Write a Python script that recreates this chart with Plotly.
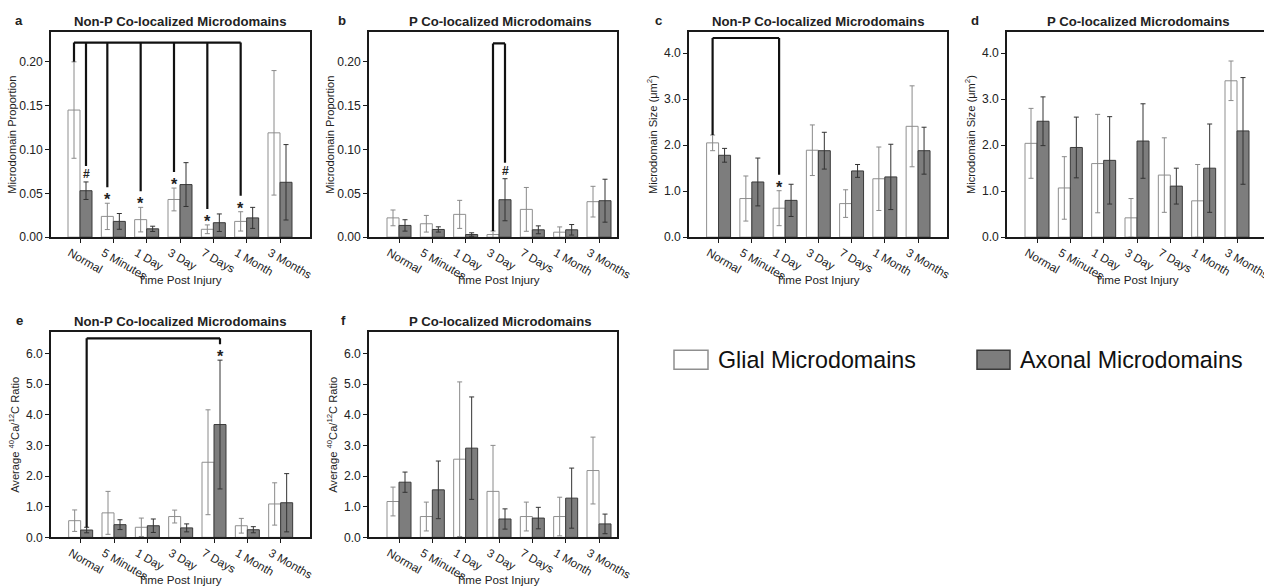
import plotly.graph_objects as go

# ---------------- data ----------------
categories = ["Normal", "5 Minutes", "1 Day", "3 Day", "7 Days", "1 Month", "3 Months"]
series_names = ["Glial Microdomains", "Axonal Microdomains"]

# a: Non-P co-localized, microdomain proportion
a_glial = [0.145, 0.0237, 0.020, 0.043, 0.009, 0.018, 0.119]
a_glial_err = [0.055, 0.015, 0.014, 0.013, 0.005, 0.011, 0.071]
a_axonal = [0.053, 0.018, 0.0095, 0.060, 0.0165, 0.022, 0.0626]
a_axonal_err = [0.010, 0.009, 0.003, 0.025, 0.010, 0.012, 0.043]

# b: P co-localized, microdomain proportion
b_glial = [0.022, 0.0153, 0.026, 0.003, 0.0317, 0.0057, 0.0405]
b_glial_err = [0.009, 0.0095, 0.016, 0.004, 0.025, 0.006, 0.0175]
b_axonal = [0.0134, 0.0088, 0.003, 0.0427, 0.0084, 0.0084, 0.0416]
b_axonal_err = [0.0065, 0.003, 0.002, 0.024, 0.0045, 0.006, 0.0245]

# c: Non-P co-localized, microdomain size
c_glial = [2.05, 0.84, 0.63, 1.89, 0.73, 1.27, 2.41]
c_glial_err = [0.17, 0.49, 0.38, 0.55, 0.30, 0.69, 0.88]
c_axonal = [1.78, 1.20, 0.80, 1.88, 1.44, 1.31, 1.88]
c_axonal_err = [0.15, 0.52, 0.35, 0.40, 0.14, 0.71, 0.51]

# d: P co-localized, microdomain size
d_glial = [2.04, 1.07, 1.60, 0.42, 1.35, 0.79, 3.40]
d_glial_err = [0.76, 0.68, 1.07, 0.42, 0.81, 0.79, 0.43]
d_axonal = [2.52, 1.95, 1.67, 2.09, 1.11, 1.50, 2.31]
d_axonal_err = [0.53, 0.66, 0.95, 0.81, 0.39, 0.96, 1.16]

# e: Non-P co-localized, 40Ca/12C ratio
e_glial = [0.545, 0.80, 0.33, 0.68, 2.45, 0.38, 1.09]
e_glial_err = [0.35, 0.70, 0.30, 0.21, 1.71, 0.24, 0.69]
e_axonal = [0.24, 0.415, 0.38, 0.31, 3.68, 0.25, 1.13]
e_axonal_err = [0.09, 0.16, 0.22, 0.13, 2.10, 0.10, 0.95]

# f: P co-localized, 40Ca/12C ratio
f_glial = [1.17, 0.68, 2.55, 1.50, 0.68, 0.68, 2.18]
f_glial_err = [0.47, 0.47, 2.52, 1.50, 0.47, 0.63, 1.09]
f_axonal = [1.80, 1.55, 2.91, 0.60, 0.63, 1.28, 0.44]
f_axonal_err = [0.33, 0.94, 1.67, 0.33, 0.35, 0.98, 0.32]

# significance comparisons: (reference category, reference series) -> targets (category, series, symbol)
a_sig_ref = ("Normal", 0)
a_sig_targets = [("Normal", 1, "#"), ("5 Minutes", 0, "*"), ("1 Day", 0, "*"),
                 ("3 Day", 0, "*"), ("7 Days", 0, "*"), ("1 Month", 0, "*")]
b_sig_ref = ("3 Day", 0)
b_sig_targets = [("3 Day", 1, "#")]
c_sig_ref = ("Normal", 0)
c_sig_targets = [("1 Day", 0, "*")]
e_sig_ref = ("Normal", 1)
e_sig_targets = [("7 Days", 1, "*")]
bracket_levels = {"a": 0.222, "b": 0.221, "c": 4.33, "e": 6.49}

panel_titles = {"a": "Non-P Co-localized Microdomains", "b": "P Co-localized Microdomains",
                "c": "Non-P Co-localized Microdomains", "d": "P Co-localized Microdomains",
                "e": "Non-P Co-localized Microdomains", "f": "P Co-localized Microdomains"}
y_titles = {"a": "Microdomain Proportion", "b": "Microdomain Proportion",
            "c": "Microdomain Size (μm<sup>2</sup>)", "d": "Microdomain Size (μm<sup>2</sup>)",
            "e": "Average <sup>40</sup>Ca/<sup>12</sup>C Ratio",
            "f": "Average <sup>40</sup>Ca/<sup>12</sup>C Ratio"}
x_title = "Time Post Injury"

# ---------------- layout geometry ----------------
# page is captured at ~1264/1280 scale, so lay out in reference pixels times S
S = 1280 / 1264
W, H = 1280, 594
FONT = "Arial, Liberation Sans, sans-serif"
TXT = "#222222"
BARGAP = 0.28

def fs(v):
    return round(v * S, 2)

panels = {
    "a": dict(box=(51, 310, 32, 237), xr=[-0.87, 6.9], yr=[0, 0.234], dt=0.05, fmt=".2f", title_x=180, so=0),
    "b": dict(box=(369, 617, 32, 237), xr=[-0.9, 6.54], yr=[0, 0.234], dt=0.05, fmt=".2f", title_x=500, so=0),
    "c": dict(box=(689, 947, 32, 237), xr=[-0.89, 6.87], yr=[0, 4.46], dt=1.0, fmt=".1f", title_x=818, so=4),
    "d": dict(box=(1007, 1264, 32, 237), xr=[-0.9, 6.81], yr=[0, 4.46], dt=1.0, fmt=".1f", title_x=1138, so=4),
    "e": dict(box=(51, 310, 332, 537), xr=[-0.89, 6.88], yr=[0, 6.69], dt=1.0, fmt=".1f", title_x=180, so=4),
    "f": dict(box=(369, 617, 332, 537), xr=[-0.9, 6.54], yr=[0, 6.69], dt=1.0, fmt=".1f", title_x=500, so=4),
}
letter_x = {"a": 19, "b": 342, "c": 658, "d": 975, "e": 19, "f": 343}
xtitle_x = {"a": 180, "b": 498, "c": 818, "d": 1137, "e": 180, "f": 498}

data = {
    "a": (a_glial, a_glial_err, a_axonal, a_axonal_err),
    "b": (b_glial, b_glial_err, b_axonal, b_axonal_err),
    "c": (c_glial, c_glial_err, c_axonal, c_axonal_err),
    "d": (d_glial, d_glial_err, d_axonal, d_axonal_err),
    "e": (e_glial, e_glial_err, e_axonal, e_axonal_err),
    "f": (f_glial, f_glial_err, f_axonal, f_axonal_err),
}
sigs = {"a": (a_sig_ref, a_sig_targets), "b": (b_sig_ref, b_sig_targets),
        "c": (c_sig_ref, c_sig_targets), "e": (e_sig_ref, e_sig_targets)}

def px(x):
    return min(1.0, x * S / W)

def py(y):
    return max(0.0, 1 - y * S / H)

fig = go.Figure()
layout = dict(
    width=W, height=H, margin=dict(l=0, r=0, t=0, b=0),
    paper_bgcolor="white", plot_bgcolor="white",
    barmode="group", bargap=BARGAP, bargroupgap=0,
    showlegend=False, font=dict(family=FONT, color=TXT),
)
shapes, annotations = [], []

glial_style = dict(fill="white", line="#8f8f8f", err="#8a8a8a")
axonal_style = dict(fill="#7d7d7d", line="#3a3a3a", err="#333333")

for k, key in enumerate(["a", "b", "c", "d", "e", "f"]):
    p = panels[key]
    x0, x1, y0, y1 = p["box"]
    n = "" if k == 0 else str(k + 1)
    xa, ya = "x" + n, "y" + n
    g, ge, ax, axe = data[key]
    for vals, errs, st, name in [(g, ge, glial_style, series_names[0]),
                                 (ax, axe, axonal_style, series_names[1])]:
        fig.add_trace(go.Bar(
            x=categories, y=vals, name=name, xaxis=xa, yaxis=ya,
            marker=dict(color=st["fill"], line=dict(color=st["line"], width=1)),
            error_y=dict(type="data", array=errs, visible=True, color=st["err"],
                         thickness=1, width=2.5),
        ))
    is_d = key == "d"
    layout["xaxis" + n] = dict(
        domain=[px(x0), px(x1)], anchor=ya, type="category", range=p["xr"],
        showline=True, linecolor="#1a1a1a", linewidth=1.5, mirror=True,
        ticks="outside", ticklen=4, tickwidth=1, tickcolor="#1a1a1a",
        tickangle=30, ticklabelshift=-10, ticklabelstandoff=-1,
        tickfont=dict(size=fs(11.5), color=TXT),
        showgrid=False, zeroline=False,
    )
    layout["yaxis" + n] = dict(
        domain=[py(y1), py(y0)], anchor=xa, range=p["yr"], dtick=p["dt"], tick0=0,
        tickformat=p["fmt"], showline=True, linecolor="#1a1a1a", linewidth=1.5,
        mirror=not is_d, ticks="outside", ticklen=4, tickwidth=1, tickcolor="#1a1a1a",
        tickfont=dict(size=fs(12), color=TXT), showgrid=False, zeroline=False,
        title=dict(text=y_titles[key], font=dict(size=fs(11), color=TXT), standoff=p["so"]),
    )
    annotations.append(dict(xref="paper", yref="paper", x=px(xtitle_x[key]), y=py(y1 + 42),
                            text=x_title, showarrow=False, xanchor="center", yanchor="middle",
                            font=dict(size=fs(11.5), color=TXT, family=FONT)))
    annotations.append(dict(xref="paper", yref="paper", x=px(p["title_x"]), y=py(y0 - 11),
                            text="<b>" + panel_titles[key] + "</b>", showarrow=False,
                            xanchor="center", yanchor="middle",
                            font=dict(size=fs(13), color=TXT, family=FONT)))
    annotations.append(dict(xref="paper", yref="paper", x=px(letter_x[key]), y=py(y0 - 12),
                            text="<b>" + key + "</b>", showarrow=False,
                            xanchor="center", yanchor="middle",
                            font=dict(size=fs(13), color=TXT, family=FONT)))

    if key in sigs:
        (ref_cat, ref_s), targets = sigs[key]
        unit = (p["yr"][1] - p["yr"][0]) / (y1 - y0)
        half = (1 - BARGAP) / 4

        def xpos(cat, s):
            return categories.index(cat) + (-half if s == 0 else half)

        def top(cat, s):
            i = categories.index(cat)
            return (g[i] + ge[i]) if s == 0 else (ax[i] + axe[i])

        level = bracket_levels[key]
        xs = [xpos(ref_cat, ref_s)] + [xpos(c, s) for c, s, _ in targets]
        line = dict(color="#111111", width=2.2)
        shapes.append(dict(type="line", xref=xa, yref=ya, x0=min(xs), x1=max(xs),
                           y0=level, y1=level, line=line, layer="above"))
        shapes.append(dict(type="line", xref=xa, yref=ya, x0=xpos(ref_cat, ref_s),
                           x1=xpos(ref_cat, ref_s), y0=level, y1=top(ref_cat, ref_s),
                           line=line, layer="above"))
        for c, s, sym in targets:
            t = top(c, s)
            shapes.append(dict(type="line", xref=xa, yref=ya, x0=xpos(c, s), x1=xpos(c, s),
                               y0=level, y1=t + 16 * unit, line=line, layer="above"))
            annotations.append(dict(xref=xa, yref=ya, x=xpos(c, s), y=t + 8 * unit,
                                    text="<b>" + sym + "</b>", showarrow=False,
                                    xanchor="center", yanchor="middle",
                                    yshift=-4 if sym == "*" else 0,
                                    font=dict(size=fs(16) if sym == "*" else fs(12), color=TXT,
                                              family=FONT)))

legend_items = [(674, 708, 716, glial_style), (977, 1010, 1018, axonal_style)]
for (bx0, bx1, tx, st), name in zip(legend_items, series_names):
    shapes.append(dict(type="rect", xref="paper", yref="paper", x0=px(bx0), x1=px(bx1),
                       y0=py(369), y1=py(350), fillcolor=st["fill"],
                       line=dict(color=st["line"], width=1.5)))
    annotations.append(dict(xref="paper", yref="paper", x=px(tx), y=py(360), text=name,
                            showarrow=False, xanchor="left", yanchor="middle",
                            font=dict(size=fs(23), color="#111111", family=FONT)))

layout["shapes"] = shapes
layout["annotations"] = annotations
fig.update_layout(**layout)
fig.write_html("out.html", config={"displayModeBar": False},
               post_script="document.body.style.margin='0px';")
